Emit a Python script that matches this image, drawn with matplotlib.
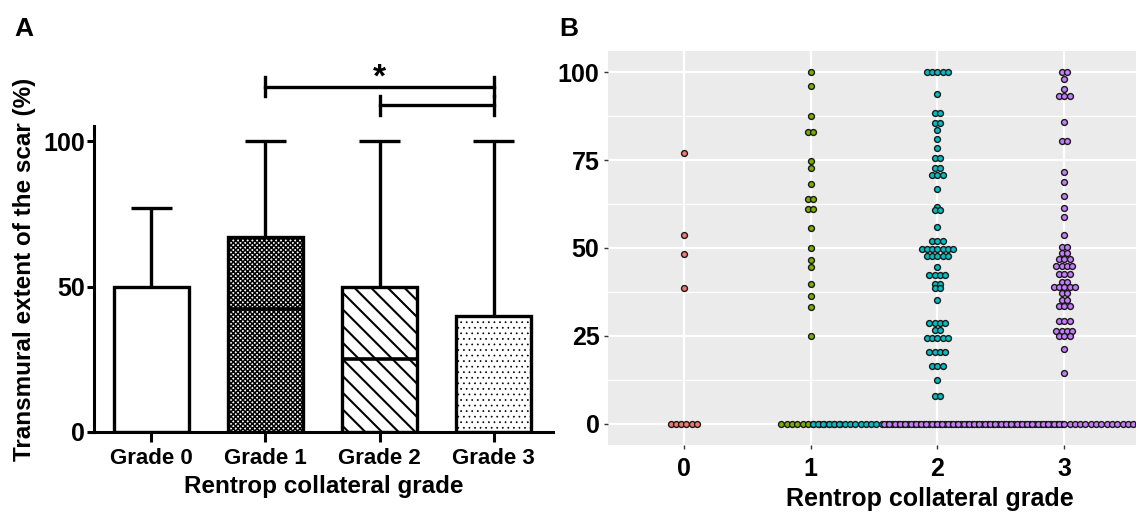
import numpy as np
import matplotlib
matplotlib.use("Agg")
import matplotlib.pyplot as plt

plt.rcParams['font.family'] = ['Liberation Sans', 'DejaVu Sans']
plt.rcParams['font.weight'] = 'bold'
plt.rcParams['hatch.linewidth'] = 1.3

# Panel A: bar = upper quartile, line = median, whisker = maximum
grades_a = ['Grade 0', 'Grade 1', 'Grade 2', 'Grade 3']
q3 = [50, 67, 50, 40]
medians = [0, 42.4, 25, 0]
maxima = [77, 100, 100, 100]
hatches = ['', 'xxxxxxx', '\\\\', '...']
hatch_lw = [1.0, 1.1, 1.5, 0.5]

# Panel B: dot values per grade (value, number of dots in the row)
g0_vals = [77, 53.8, 48.4, 38.5, 0]
g0_counts = [1, 1, 1, 1, 6]
g1_vals = [100, 96.1, 87.5, 82.9, 74.6, 72.6, 68.1, 63.9, 61.1, 55.6, 50.0,
           46.6, 44.7, 39.9, 36.4, 33.1, 25.0, 0]
g1_counts = [1, 1, 1, 2, 1, 1, 1, 2, 2, 1, 1, 1, 1, 1, 1, 1, 1, 12]
g2_vals = [100, 93.8, 88.4, 85.4, 83.5, 80.9, 78.5, 75.6, 72.7, 70.8, 66.7,
           61.7, 60.8, 56.0, 52.0, 49.7, 47.7, 44.5, 42.2, 39.8, 38.5, 35.3,
           28.7, 26.7, 24.3, 20.5, 16.4, 12.5, 7.8, 0]
g2_counts = [5, 1, 2, 2, 1, 1, 1, 2, 2, 3, 1, 1, 2, 1, 3, 7, 5, 1, 4, 2, 2, 1,
             4, 2, 5, 4, 3, 1, 2, 48]
g3_vals = [100, 98.0, 95.3, 93.3, 85.8, 80.4, 71.5, 68.8, 64.7, 61.3, 58.9,
           53.8, 50.3, 48.7, 46.8, 44.9, 42.6, 40.2, 38.8, 37.1, 35.3, 33.4,
           29.3, 26.5, 24.9, 21.4, 14.6, 0]
g3_counts = [2, 1, 1, 3, 1, 2, 1, 1, 1, 1, 1, 1, 2, 2, 3, 4, 3, 2, 5, 2, 2, 3,
             3, 4, 3, 1, 1, 69]
dot_colors = ['#F8766D', '#7CAE00', '#00BFC4', '#C77CFF']

DOT_DX = 0.0418  # dot diameter in x data units

fig = plt.figure(figsize=(11.36, 5.12), dpi=100)

# ---------------- Panel A ----------------
axA = fig.add_axes([0.0824, 0.1568, 0.4044, 0.5971])
xa = np.arange(len(grades_a))
bars = axA.bar(xa, q3, width=0.66, color='white', edgecolor='black',
               linewidth=2.4, zorder=2)
for b, h, hl in zip(bars, hatches, hatch_lw):
    b.set_hatch(h)
    if hasattr(b, 'set_hatch_linewidth'):
        b.set_hatch_linewidth(hl)
axA.vlines(xa, q3, maxima, color='black', linewidth=2.4, zorder=1)
axA.hlines(maxima, xa - 0.18, xa + 0.18, color='black', linewidth=2.4)
for x, m in zip(xa, medians):
    if m > 0:
        axA.hlines(m, x - 0.33, x + 0.33, color='black', linewidth=2.6, zorder=3)

axA.set_xlim(-0.506, 3.52)
axA.set_ylim(0, 105.3)
axA.set_yticks([0, 50, 100])
axA.set_xticks(xa)
axA.set_xticklabels(grades_a)
axA.tick_params(axis='both', width=2.2, color='black')
axA.tick_params(axis='y', length=5, pad=1, labelsize=18)
axA.tick_params(axis='x', length=7, pad=5, labelsize=16)
for s in ['top', 'right']:
    axA.spines[s].set_visible(False)
for s in ['left', 'bottom']:
    axA.spines[s].set_linewidth(2.2)
axA.set_xlabel('Rentrop collateral grade', fontsize=17.5, fontweight='bold', labelpad=4)
axA.set_ylabel('Transmural extent of the scar (%)', fontsize=17.5, fontweight='bold')
axA.yaxis.set_label_coords(-0.125, 0.532)

# significance brackets
for x0, x1, y in [(1, 3, 118.8), (2, 3, 112.4)]:
    axA.plot([x0, x1], [y, y], color='black', linewidth=2.4, clip_on=False)
    axA.plot([x0, x0], [y - 3.3, y + 3.3], color='black', linewidth=2.4, clip_on=False)
    axA.plot([x1, x1], [y - 3.3, y + 3.3], color='black', linewidth=2.4, clip_on=False)
axA.text(2, 116.5, '*', ha='center', va='bottom', fontsize=24, fontweight='bold')

fig.text(0.013, 0.929, 'A', fontsize=19, fontweight='bold')

# ---------------- Panel B ----------------
# the original panel runs past the right edge of the picture
axB = fig.add_axes([0.535, 0.1309, 0.567, 0.7695])
axB.set_facecolor('#EBEBEB')
groups = [(g0_vals, g0_counts), (g1_vals, g1_counts),
          (g2_vals, g2_counts), (g3_vals, g3_counts)]
for gi, (vals, counts) in enumerate(groups):
    xs, ys = [], []
    for v, n in zip(vals, counts):
        for k in range(n):
            xs.append(gi + (k - (n - 1) / 2) * DOT_DX)
            ys.append(v)
    axB.scatter(xs, ys, s=18, color=dot_colors[gi], edgecolor='#1a1a1a',
                linewidth=1.0, zorder=3 + gi)

axB.set_xlim(-0.6, 4.48)
axB.set_ylim(-6, 106)
axB.set_xticks([0, 1, 2, 3])
axB.set_yticks([0, 25, 50, 75, 100])
axB.set_yticks([12.5, 37.5, 62.5, 87.5], minor=True)
axB.grid(which='major', color='white', linewidth=1.6)
axB.grid(which='minor', axis='y', color='white', linewidth=0.8)
axB.set_axisbelow(True)
for s in axB.spines.values():
    s.set_visible(False)
axB.tick_params(axis='both', which='major', labelsize=18, length=3, width=1,
                color='#333333', labelcolor='black')
axB.tick_params(axis='y', which='major', pad=3)
axB.tick_params(axis='x', which='major', pad=6)
axB.tick_params(axis='both', which='minor', length=0)
axB.set_xlabel('Rentrop collateral grade', fontsize=18, fontweight='bold', labelpad=4)

fig.text(0.492, 0.929, 'B', fontsize=19, fontweight='bold')

fig.savefig('out.png', dpi=100)
